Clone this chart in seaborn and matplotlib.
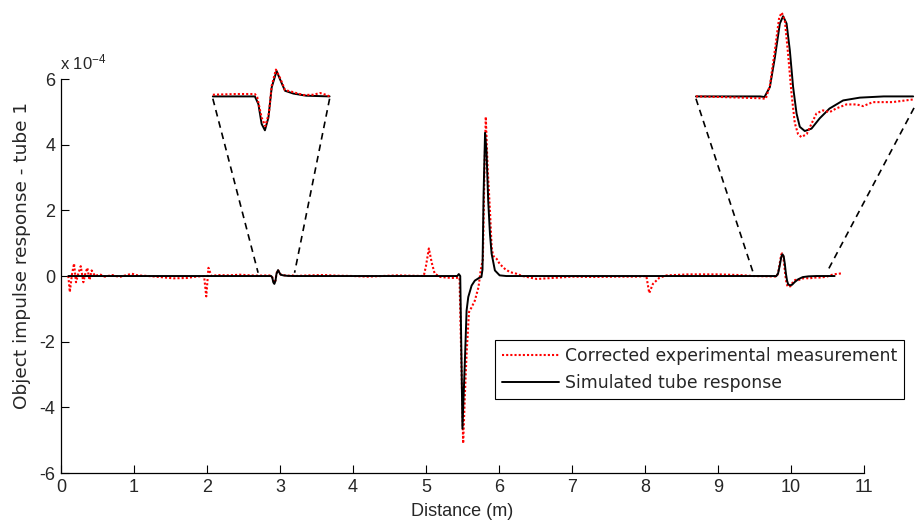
import numpy as np
import pandas as pd
import matplotlib
matplotlib.use("Agg")
import matplotlib.pyplot as plt
import seaborn as sns

# ---------------- data (y values in units of 1e-4) ----------------
meas_x = [0.10, 0.12, 0.15, 0.178, 0.205, 0.24, 0.27, 0.306, 0.33, 0.36, 0.39, 0.42, 0.466, 0.534,
          0.60, 0.70, 0.80, 0.90, 0.97, 1.05, 1.20, 1.35, 1.54, 1.72, 1.85, 1.96, 1.99, 2.02, 2.06,
          2.15, 2.30, 2.45, 2.60, 2.70, 2.80, 2.88, 2.89, 2.909, 2.925, 2.94, 2.952, 2.97, 2.988,
          3.009, 3.038, 3.087, 3.13, 3.159, 3.187, 3.20, 3.40, 3.60, 3.80, 4.00, 4.20, 4.40, 4.60,
          4.80, 4.97, 5.00, 5.04, 5.08, 5.12, 5.20, 5.35, 5.46, 5.49, 5.51, 5.534, 5.557, 5.59,
          5.626, 5.67, 5.72, 5.75, 5.78, 5.80, 5.82, 5.845, 5.877, 5.90, 5.92, 5.97, 6.01, 6.08,
          6.15, 6.24, 6.32, 6.52, 6.80, 7.00, 7.30, 7.60, 7.90, 8.02, 8.06, 8.11, 8.20, 8.30,
          8.60, 9.00, 9.30, 9.484, 9.60, 9.78, 9.806, 9.825, 9.848, 9.868, 9.88, 9.894, 9.909,
          9.925, 9.94, 9.955, 9.97, 9.995, 10.017, 10.04, 10.07, 10.10, 10.13, 10.178, 10.225,
          10.255, 10.30, 10.39, 10.486, 10.58, 10.71]
meas_y = [0.00, -0.49, 0.05, 0.38, -0.19, 0.10, 0.30, -0.19, 0.05, 0.25, -0.12, 0.17, 0.00, 0.05,
          -0.02, 0.03, -0.03, 0.03, 0.07, 0.02, 0.00, -0.03, -0.07, -0.06, -0.02, 0.00, -0.62, 0.25, 0.00,
          0.03, 0.02, 0.04, 0.02, 0.012, 0.017, 0.017, -0.005, -0.15, -0.21, -0.12, 0.075, 0.19, 0.13,
          0.045, 0.033, 0.01, 0.012, 0.024, 0.01, 0.00, 0.02, 0.03, 0.01, 0.00, -0.02, 0.00, 0.02,
          0.01, 0.00, 0.30, 0.84, 0.40, 0.07, -0.03, -0.06, -0.05, -3.00, -5.10, -3.60, -2.36, -1.10,
          -0.95, -0.75, -0.34, 0.17, 0.50, 3.00, 4.85, 3.30, 2.00, 0.88, 0.62, 0.52, 0.37, 0.22,
          0.12, 0.07, 0.00, -0.09, -0.05, -0.02, -0.03, -0.02, -0.02, 0.00, -0.52, -0.24, -0.05, 0.02,
          0.05, 0.05, 0.03, 0.00, -0.005, -0.015, -0.02, 0.09, 0.38, 0.65, 0.69, 0.625, 0.35,
          0.02, -0.22, -0.31, -0.335, -0.31, -0.225, -0.14, -0.115, -0.13, -0.10, -0.066, -0.066,
          -0.08, -0.047, -0.047, -0.025, 0.05, 0.085]

sim_x = [0.10, 2.70, 2.88, 2.895, 2.909, 2.923, 2.938, 2.952, 2.973, 2.988, 3.009, 3.045, 3.10, 3.20,
         5.43, 5.45, 5.47, 5.49, 5.50, 5.534, 5.557, 5.58, 5.626, 5.67, 5.73, 5.76, 5.775, 5.79,
         5.81, 5.83, 5.853, 5.877, 5.90, 5.945, 6.01, 6.10, 9.484, 9.78, 9.80, 9.825, 9.848,
         9.871, 9.886, 9.902, 9.917, 9.932, 9.948, 9.963, 9.986, 10.017, 10.055, 10.10, 10.163,
         10.24, 10.35, 10.486, 10.60]
sim_y = [0.00, 0.00, 0.00, -0.054, -0.195, -0.24, -0.15, 0.064, 0.18, 0.12, 0.04, 0.02, 0.005, 0.00,
         0.00, 0.06, 0.00, -3.00, -4.65, -2.57, -1.05, -0.64, -0.29, -0.14, -0.055, -0.03, 0.20, 2.50,
         4.36, 3.80, 2.30, 1.29, 0.68, 0.17, 0.02, 0.00, 0.00, 0.00, -0.005, 0.077, 0.32,
         0.60, 0.66, 0.60, 0.38, 0.08, -0.14, -0.25, -0.285, -0.265, -0.18, -0.10, -0.033,
         -0.01, 0.00, 0.00, 0.00]

series_labels = ["Corrected experimental measurement", "Simulated tube response"]
x_ticks = list(range(0, 12))
y_ticks = [-6, -4, -2, 0, 2, 4, 6]
x_label = "Distance (m)"
y_label = "Object impulse response - tube 1"
exponent_label = r"x 10$^{-4}$"

# inset definitions: (window start, window end, inset left x, x-scale, inset baseline y, y-scale,
#                     left connector drop, right connector drop)
insets = [
    (2.70, 3.20, 2.08, 3.20, 5.47, 4.3, 0.07, 0.07),
    (9.484, 10.49, 8.70, 2.97, 5.47, 3.7, 0.07, 0.35),
]

# ---------------- styling ----------------
sns.set_theme(style="white")
plt.rcParams["font.family"] = ["DejaVu Sans"]
plt.rcParams["axes.unicode_minus"] = False
plt.rcParams["mathtext.default"] = "regular"
NARROW = ["Liberation Sans Narrow", "Liberation Sans", "DejaVu Sans"]

fig = plt.figure(figsize=(9.22, 5.25), dpi=100)
ax = fig.add_axes([0.0662, 0.099, 0.8707, 0.7505])

meas = pd.DataFrame({"x": meas_x, "y": meas_y})
sim = pd.DataFrame({"x": sim_x, "y": sim_y})

red_kw = dict(color="red", linewidth=1.5, linestyle=(0, (1, 1)))
blk_kw = dict(color="black", linewidth=1.4, linestyle="-")

sns.lineplot(data=meas, x="x", y="y", ax=ax, sort=False, estimator=None,
             label=series_labels[0], **red_kw)
sns.lineplot(data=sim, x="x", y="y", ax=ax, sort=False, estimator=None,
             label=series_labels[1], **blk_kw)

# magnified insets (derived from the same series)
for (w0, w1, x0, sx, base, sy, top_l, top_r) in insets:
    for df, kw in ((sim, blk_kw), (meas, red_kw)):
        sub = df[(df["x"] >= w0) & (df["x"] <= w1)]
        ins = pd.DataFrame({"x": x0 + (sub["x"] - w0) * sx, "y": base + sub["y"] * sy})
        sns.lineplot(data=ins, x="x", y="y", ax=ax, sort=False, estimator=None,
                     legend=False, **kw)
        ax.lines[-1].set_clip_on(False)
    x1 = x0 + (w1 - w0) * sx
    for (xa, ya, xb, yb) in ((x0, base - top_l, w0, 0.1), (x1, base - top_r, w1, 0.1)):
        ln, = ax.plot([xa, xb], [ya, yb], color="black", linewidth=1.2,
                      linestyle=(0, (4, 3)))
        ln.set_clip_on(False)

ax.set_xlim(0, 11)
ax.set_ylim(-6, 6)
ax.set_xticks(x_ticks)
ax.set_yticks(y_ticks)
ax.set_xticklabels([str(t) for t in x_ticks], family=NARROW, fontsize=13)
ax.set_yticklabels([str(t) for t in y_ticks], family=NARROW, fontsize=13)
ax.tick_params(direction="in", length=5.8, width=0.8, color="black", pad=4,
               bottom=True, left=True, top=False, right=False)
for s in ("top", "right"):
    ax.spines[s].set_visible(False)
for s in ("left", "bottom"):
    ax.spines[s].set_color("black")
    ax.spines[s].set_linewidth(0.9)

ax.set_xlabel(x_label, family=NARROW, fontsize=13, labelpad=5)
ax.set_ylabel(y_label, fontsize=13.3)
ax.yaxis.set_label_coords(-0.037, 0.551)
fig.text(0.065, 0.867, exponent_label, family=NARROW, fontsize=12, va="baseline", ha="left")

leg = ax.legend(loc="upper left", bbox_to_anchor=(495 / 922, 1 - 340 / 525),
                bbox_transform=fig.transFigure, frameon=True, fancybox=False,
                framealpha=1, edgecolor="black", fontsize=12.45, handlelength=3.3,
                handletextpad=0.35, borderpad=0.4, labelspacing=0.55, borderaxespad=0)
leg.get_frame().set_linewidth(0.8)

fig.savefig("out.png", dpi=100)
